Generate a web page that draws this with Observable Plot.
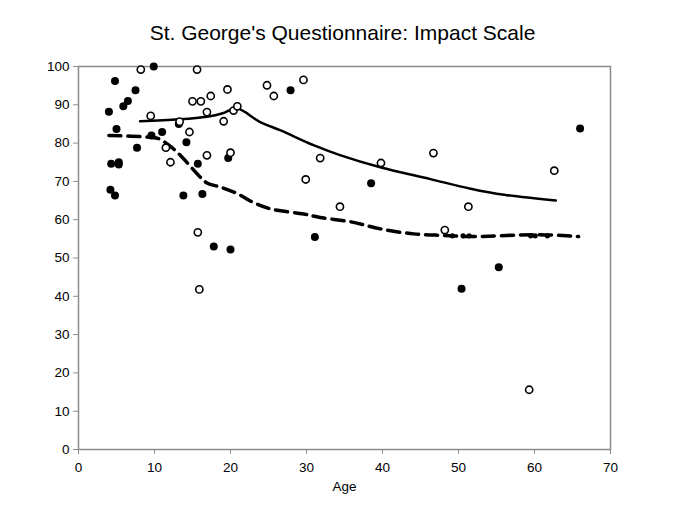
<!DOCTYPE html>
<html>
<head>
<meta charset="utf-8">
<script src="https://cdn.jsdelivr.net/npm/d3@7"></script>
<script src="https://cdn.jsdelivr.net/npm/@observablehq/plot@0.6"></script>
<style>
  html, body { margin: 0; padding: 0; background: #fff; }
  #title { width: 685px; height: 28px; padding-top: 22px; text-align: center;
           font-family: "Liberation Sans", Arial, sans-serif; font-size: 21px; line-height: 21px; color: #000; }
</style>
</head>
<body>
<div id="title">St. George's Questionnaire: Impact Scale</div>
<div id="chart"></div>
<script>
// Filled circles (age, score)
const filledAge   = [4.0, 4.8, 7.5, 6.5, 5.9, 5.0, 9.6, 11.0, 7.7, 14.2, 4.3, 5.3, 5.3, 15.7, 19.7, 4.2, 4.8, 13.8, 16.3, 9.9, 13.2, 17.8, 20.0, 27.9, 31.1, 38.5, 50.4, 55.3, 66.0];
const filledScore = [88.2, 96.2, 93.8, 91.0, 89.6, 83.7, 82.0, 82.9, 78.8, 80.2, 74.6, 75.0, 74.4, 74.6, 76.1, 67.8, 66.3, 66.3, 66.7, 100, 85.0, 53.0, 52.2, 93.8, 55.5, 69.5, 42.0, 47.6, 83.8];
// Open circles (age, score)
const openAge   = [8.2, 15.6, 9.5, 15.0, 16.1, 17.4, 19.6, 16.9, 19.1, 20.4, 20.9, 14.6, 11.5, 12.1, 16.9, 20.0, 13.3, 24.8, 25.7, 29.6, 31.8, 29.9, 34.4, 39.8, 46.7, 51.3, 48.2, 62.6, 59.3, 15.7, 15.9];
const openScore = [99.2, 99.2, 87.1, 90.9, 90.9, 92.3, 94.0, 88.1, 85.7, 88.5, 89.6, 82.9, 78.8, 75.0, 76.8, 77.5, 85.6, 95.1, 92.3, 96.5, 76.1, 70.5, 63.4, 74.8, 77.4, 63.4, 57.3, 72.8, 15.6, 56.7, 41.8];
// Small filled markers lying on the dashed curve
const smallAge   = [49.2, 50.6, 51.4, 59.5, 60.1, 61.7];
const smallScore = [55.8, 55.8, 55.8, 55.8, 55.8, 55.8];
// Smoothed curve for open circles (solid)
const solidAge   = [8.1, 13.2, 16.9, 19.0, 20.8, 23.9, 26.6, 31.0, 34.5, 39.7, 46.3, 51.6, 56.0, 62.8];
const solidScore = [85.7, 86.2, 86.9, 87.8, 89.1, 85.5, 83.3, 79.4, 76.8, 73.7, 70.6, 68.1, 66.5, 65.0];
// Smoothed curve for filled circles (dashed)
const dashAge   = [4.0, 9.5, 10.6, 12.0, 13.4, 15.6, 16.9, 18.7, 20.9, 23.0, 25.3, 29.6, 31.8, 36.2, 39.7, 44.1, 48.1, 51.6, 60.4, 65.8];
const dashScore = [82.0, 81.5, 81.1, 79.3, 76.8, 72.0, 69.6, 68.5, 66.8, 64.5, 62.8, 61.5, 60.6, 59.3, 57.6, 56.3, 55.9, 55.6, 56.1, 55.6];
// Ticks
const xTicks = [0, 10, 20, 30, 40, 50, 60, 70];
const yTicks = [0, 10, 20, 30, 40, 50, 60, 70, 80, 90, 100];

const zip = (xs, ys) => xs.map((x, i) => ({x, y: ys[i]}));
const filled = zip(filledAge, filledScore);
const open = zip(openAge, openScore);
const small = zip(smallAge, smallScore);
const solid = zip(solidAge, solidScore);
const dashed = zip(dashAge, dashScore);

const chart = Plot.plot({
  width: 685,
  height: 463,
  marginTop: 16,
  marginBottom: 64,
  marginLeft: 78,
  marginRight: 75,
  style: {fontFamily: '"Liberation Sans", Arial, sans-serif', fontSize: "13px", color: "#000", background: "#fff"},
  x: {domain: [0, 70]},
  y: {domain: [0, 100]},
  marks: [
    Plot.frame({stroke: "#8c8c8c", strokeWidth: 1.5}),
    Plot.axisX({ticks: xTicks, tickSize: 5, tickPadding: 8, stroke: "#8c8c8c", fill: "#000", label: null, fontSize: 13.5}),
    Plot.axisY({ticks: yTicks, tickSize: 5, tickPadding: 4, stroke: "#8c8c8c", fill: "#000", label: null, fontSize: 13.5}),
    Plot.text(["Age"], {frameAnchor: "bottom", dy: 41, fontSize: 13.5, fill: "#000"}),
    Plot.line(dashed, {x: "x", y: "y", curve: "catmull-rom", stroke: "#000", strokeWidth: 3.5, strokeDasharray: "12,7"}),
    Plot.line(solid, {x: "x", y: "y", curve: "catmull-rom", stroke: "#000", strokeWidth: 2.5}),
    Plot.dot(small, {x: "x", y: "y", r: 2.6, fill: "#000", stroke: "none"}),
    Plot.dot(filled, {x: "x", y: "y", r: 4, fill: "#000", stroke: "none"}),
    Plot.dot(open, {x: "x", y: "y", r: 3.6, fill: "#fff", stroke: "#000", strokeWidth: 1.6})
  ]
});
document.getElementById("chart").appendChild(chart);
</script>
</body>
</html>
